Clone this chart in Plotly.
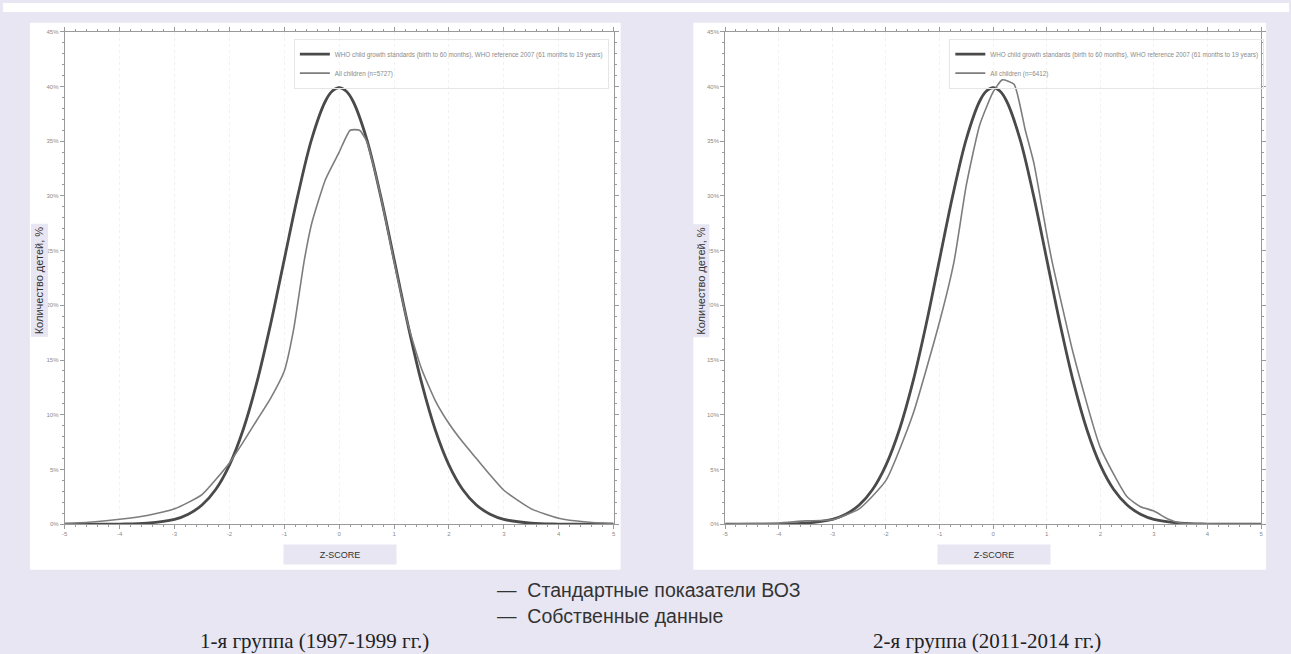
import plotly.graph_objects as go

# ---- data ----
z_who = [-5, -4.5, -4, -3.5, -3, -2.75, -2.5, -2.25, -2, -1.75, -1.5, -1.25, -1, -0.75, -0.5, -0.25, -0.125,
         0, 0.125, 0.25, 0.5, 0.75, 1, 1.25, 1.5, 1.75, 2, 2.25, 2.5, 2.75, 3, 3.5, 4, 4.5, 5]
who_pct = [0.0, 0.0, 0.01, 0.09, 0.44, 0.91, 1.75, 3.17, 5.40, 8.63, 12.95, 18.27, 24.20, 30.11, 35.21, 38.67, 39.58,
           39.89, 39.58, 38.67, 35.21, 30.11, 24.20, 18.27, 12.95, 8.63, 5.40, 3.17, 1.75, 0.91, 0.44, 0.09, 0.01, 0.0, 0.0]

z_g1 = [-5, -4.5, -4, -3.5, -3, -2.5, -2, -1.75, -1.5, -1.25, -1, -0.83, -0.64, -0.5, -0.25, 0,
        0.2, 0.37, 0.5, 0.75, 1, 1.25, 1.5, 1.75, 2, 2.25, 2.5, 2.75, 3, 3.5, 4, 4.5, 5]
g1_pct = [0.05, 0.2, 0.45, 0.8, 1.4, 2.7, 5.6, 7.5, 9.5, 11.5, 14.0, 17.8, 24.0, 27.5, 31.5, 34.0,
          36.0, 36.0, 35.0, 30.1, 24.0, 18.3, 14.2, 11.3, 9.2, 7.5, 6.0, 4.5, 3.1, 1.4, 0.55, 0.2, 0.05]

z_g2 = [-5, -4.5, -4, -3.5, -3, -2.5, -2, -1.5, -1, -0.73, -0.5, -0.25, 0, 0.17, 0.39, 0.6, 0.76,
        1, 1.1, 1.5, 2, 2.5, 2.75, 3, 3.25, 3.5, 4, 4.5, 5]
g2_pct = [0.0, 0.05, 0.1, 0.3, 0.4, 1.4, 4.0, 10.0, 18.5, 24.0, 31.0, 36.5, 39.5, 40.6, 40.2, 36.0, 33.0,
          26.5, 24.0, 15.5, 7.0, 2.5, 1.6, 1.2, 0.5, 0.1, 0.03, 0.0, 0.0]

x_ticks = [-5, -4, -3, -2, -1, 0, 1, 2, 3, 4, 5]
y_ticks = [0, 5, 10, 15, 20, 25, 30, 35, 40, 45]
y_tick_text = [f"{v}%" for v in y_ticks]

who_name = "WHO child growth standards (birth to 60 months), WHO reference 2007 (61 months to 19 years)"
g1_name = "All children (n=5727)"
g2_name = "All children (n=6412)"

group_titles = ["1-я группа (1997-1999 гг.)", "2-я группа (2011-2014 гг.)"]
legend_labels = ["Стандартные показатели ВОЗ", "Собственные данные"]
y_title = "Количество детей, %"
x_title = "Z-SCORE"

# ---- styling ----
W, H = 1291, 654
BG = "#e7e6f2"
WHO_COLOR = "#4a4a4a"
OWN_COLOR = "#7d7d7d"
AX_COLOR = "#9a9a9a"
TICK_FONT = dict(family="Liberation Sans, Arial", size=6, color="#8a8a8a")
LEG_FONT = dict(family="Liberation Sans, Arial", size=6.3, color="#8a8a8a")


def px_x(p):
    return p / W


def px_y(p):
    return 1 - p / H


fig = go.Figure()

fig.add_trace(go.Scatter(x=z_who, y=who_pct, mode="lines", name=who_name,
                         line=dict(color=WHO_COLOR, width=2.8, shape="spline", smoothing=1.0),
                         xaxis="x", yaxis="y", legend="legend"))
fig.add_trace(go.Scatter(x=z_g1, y=g1_pct, mode="lines", name=g1_name,
                         line=dict(color=OWN_COLOR, width=1.6, shape="spline", smoothing=0.5),
                         xaxis="x", yaxis="y", legend="legend"))
fig.add_trace(go.Scatter(x=z_who, y=who_pct, mode="lines", name=who_name,
                         line=dict(color=WHO_COLOR, width=2.8, shape="spline", smoothing=1.0),
                         xaxis="x2", yaxis="y2", legend="legend2"))
fig.add_trace(go.Scatter(x=z_g2, y=g2_pct, mode="lines", name=g2_name,
                         line=dict(color=OWN_COLOR, width=1.6, shape="spline", smoothing=0.5),
                         xaxis="x2", yaxis="y2", legend="legend2"))

x_dom1 = [px_x(62), px_x(613)]
x_dom2 = [px_x(725), px_x(1263)]
y_dom = [px_y(526), px_y(29)]

common_x = dict(range=[-5, 5], tickmode="array", tickvals=x_ticks, ticktext=[str(v) for v in x_ticks],
                showline=True, linecolor=AX_COLOR, linewidth=1, mirror="allticks", ticks="outside", ticklen=4,
                tickcolor=AX_COLOR, tickfont=TICK_FONT, showgrid=True, gridcolor="#f1f1f1", griddash="dot",
                zeroline=False, minor=dict(dtick=0.2, ticks="outside", ticklen=2, tickcolor=AX_COLOR, showgrid=False),
                fixedrange=True)
common_y = dict(range=[0, 45], tickmode="array", tickvals=y_ticks, ticktext=y_tick_text,
                showline=True, linecolor=AX_COLOR, linewidth=1, mirror="allticks", ticks="outside", ticklen=4,
                tickcolor=AX_COLOR, tickfont=TICK_FONT, showgrid=False, zeroline=False,
                minor=dict(dtick=1, ticks="outside", ticklen=2, tickcolor=AX_COLOR, showgrid=False),
                domain=y_dom, fixedrange=True)

leg_common = dict(xanchor="left", yanchor="top", bgcolor="rgba(255,255,255,0)", bordercolor="#e6e6e6",
                  borderwidth=1, font=LEG_FONT, itemwidth=30, tracegroupgap=0)

fig.update_layout(
    width=W, height=H,
    margin=dict(l=0, r=0, t=0, b=0),
    paper_bgcolor=BG, plot_bgcolor="white",
    xaxis=dict(domain=x_dom1, anchor="y", **common_x),
    yaxis=dict(anchor="x", **common_y),
    xaxis2=dict(domain=x_dom2, anchor="y2", **common_x),
    yaxis2=dict(anchor="x2", **common_y),
    legend=dict(x=px_x(292), y=px_y(36), **leg_common),
    legend2=dict(x=px_x(950), y=px_y(36), **leg_common),
    showlegend=True,
)

# white panels and top strip
shapes = [
    dict(type="rect", xref="paper", yref="paper", x0=0, x1=1, y0=px_y(9), y1=1,
         fillcolor="white", line=dict(width=0), layer="below"),
    dict(type="rect", xref="paper", yref="paper", x0=px_x(27), x1=px_x(620), y0=px_y(572), y1=px_y(20),
         fillcolor="white", line=dict(width=0), layer="below"),
    dict(type="rect", xref="paper", yref="paper", x0=px_x(693), x1=px_x(1268), y0=px_y(572), y1=px_y(20),
         fillcolor="white", line=dict(width=0), layer="below"),
]
fig.update_layout(shapes=shapes)

ann = []
# y-axis titles
for xc in (37, 701):
    ann.append(dict(text=y_title, textangle=-90, xref="paper", yref="paper", x=px_x(xc), y=px_y(280),
                    xanchor="center", yanchor="middle", showarrow=False,
                    font=dict(family="Liberation Sans, Arial", size=11, color="#333"),
                    bgcolor=BG, borderpad=2))
# x-axis titles
for xc in (338, 995):
    ann.append(dict(text=x_title, xref="paper", yref="paper", x=px_x(xc), y=px_y(557),
                    xanchor="center", yanchor="middle", showarrow=False,
                    font=dict(family="Liberation Sans, Arial", size=9, color="#333"),
                    bgcolor=BG, width=110, height=17))
# bottom legend
for i, lbl in enumerate(legend_labels):
    ann.append(dict(text="—  " + lbl, xref="paper", yref="paper", x=px_x(494), y=px_y(592 + 27 * i),
                    xanchor="left", yanchor="middle", showarrow=False,
                    font=dict(family="Liberation Sans Narrow, Liberation Sans, Arial", size=19.5, color="#333")))
# group titles
for xc, t in zip((313, 988), group_titles):
    ann.append(dict(text=t, xref="paper", yref="paper", x=px_x(xc), y=px_y(644),
                    xanchor="center", yanchor="middle", showarrow=False,
                    font=dict(family="Liberation Serif, Times New Roman", size=21, color="#222")))
fig.update_layout(annotations=ann)

fig.write_html("out.html", config={"displayModeBar": False},
               post_script="document.body.style.margin='0';document.body.style.overflow='hidden';")
